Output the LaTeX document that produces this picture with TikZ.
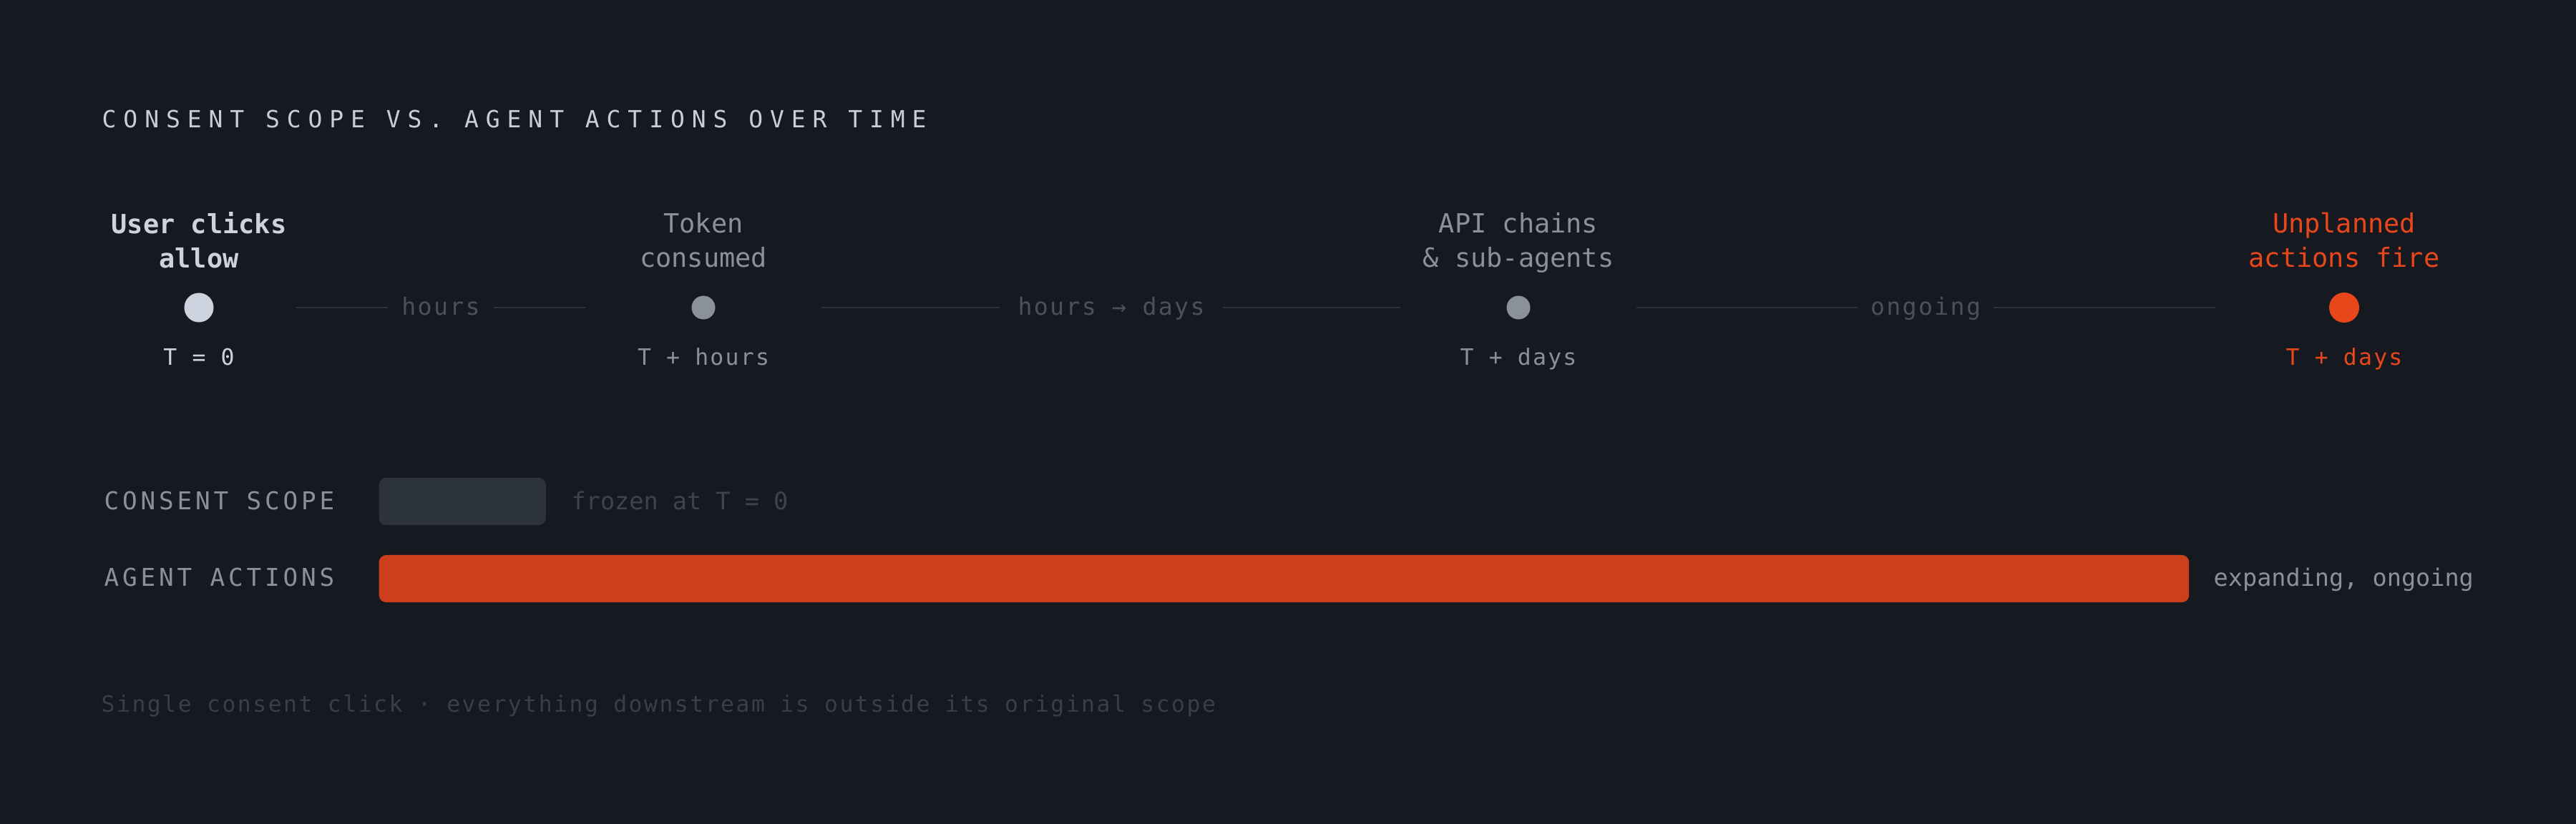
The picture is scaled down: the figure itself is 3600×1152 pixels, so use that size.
\documentclass[tikz,border=0pt]{standalone}
\usepackage{fontspec}
\setmonofont{DejaVu Sans Mono}
\newfontfamily\plainfont{DejaVu Sans Mono}
\newfontfamily\titlefont[LetterSpace=30]{DejaVu Sans Mono}
\newfontfamily\rowfont[LetterSpace=14]{DejaVu Sans Mono}
\newfontfamily\smallfont[LetterSpace=7]{DejaVu Sans Mono}
\newfontfamily\footfont[LetterSpace=8]{DejaVu Sans Mono}
\definecolor{bg}{HTML}{161920}
\definecolor{ctitle}{HTML}{C8CED8}
\definecolor{clight}{HTML}{CDD3DE}
\definecolor{cgray}{HTML}{8B9199}
\definecolor{cdim}{HTML}{4B515A}
\definecolor{cline}{HTML}{2E333B}
\definecolor{cfrozen}{HTML}{3E444C}
\definecolor{cfoot}{HTML}{3A3F47}
\definecolor{cbox}{HTML}{2D333B}
\definecolor{corange}{HTML}{E8471C}
\definecolor{cbar}{HTML}{CC3F1C}
\tikzset{
  titletext/.style={anchor=base west, inner sep=0pt, text=ctitle, font=\titlefont\fontsize{9.39}{11}\selectfont},
  eventlbl/.style={anchor=base, inner sep=0pt, align=center, text=cgray, font=\plainfont\fontsize{10.5}{13.66}\selectfont},
  timelbl/.style={anchor=base, inner sep=0pt, text=cgray, font=\smallfont\fontsize{8.96}{11}\selectfont},
  gaplbl/.style={anchor=base, inner sep=0pt, text=cdim, font=\smallfont\fontsize{9.45}{11}\selectfont},
  rowlbl/.style={anchor=base west, inner sep=0pt, text=cgray, font=\rowfont\fontsize{9.76}{11}\selectfont},
  notelbl/.style={anchor=base west, inner sep=0pt, font=\plainfont\fontsize{9.53}{11}\selectfont},
  dot/.style={circle, inner sep=0pt, draw=none},
  conn/.style={draw=cline, line width=0.025cm},
  barshape/.style={anchor=west, inner sep=0pt, draw=none, rounded corners=0.1cm, minimum height=0.66cm}
}
\begin{document}
\begin{tikzpicture}[x=0.01cm, y=-0.01cm]
\fill[bg] (0,0) rectangle (3600,1152);
\useasboundingbox (0,0) rectangle (3600,1152);

% title
\node[titletext] (title) at (142,179) {CONSENT SCOPE VS. AGENT ACTIONS OVER TIME};

% event labels (anchor base = baseline of the last line)
\node[eventlbl, text=clight, font=\plainfont\bfseries\fontsize{10.5}{13.66}\selectfont] (l1) at (278,375) {User clicks\\allow};
\node[eventlbl] (l2) at (983,374) {Token\\consumed};
\node[eventlbl] (l3) at (2122,374) {API chains\\\& sub-agents};
\node[eventlbl, text=corange] (l4) at (3276,374) {Unplanned\\actions fire};

% dots
\node[dot, fill=clight, minimum size=0.41cm] (d1) at (278,430) {};
\node[dot, fill=cgray, minimum size=0.33cm] (d2) at (983,430) {};
\node[dot, fill=cgray, minimum size=0.33cm] (d3) at (2122,430) {};
\node[dot, fill=corange, minimum size=0.42cm] (d4) at (3276,430) {};

% time labels
\node[timelbl, text=clight] (t1) at (278,510) {T = 0};
\node[timelbl] (t2) at (983,510) {T + hours};
\node[timelbl] (t3) at (2122,510) {T + days};
\node[timelbl, text=corange] (t4) at (3276,510) {T + days};

% gap labels
\node[gaplbl, minimum width=1.46cm] (c1) at (616,440) {hours};
\node[gaplbl, minimum width=3.10cm] (c2) at (1553,440) {hours → days};
\node[gaplbl, minimum width=1.88cm] (c3) at (2691,440) {ongoing};

% connector line ends
\coordinate (s1a) at (414,430);
\coordinate (s1b) at (818,430);
\coordinate (s2a) at (1148,430);
\coordinate (s2b) at (1957,430);
\coordinate (s3a) at (2287,430);
\coordinate (s3b) at (3096,430);

\draw[conn] (s1a) -- (s1a -| c1.west);
\draw[conn] (c1.east |- s1b) -- (s1b);
\draw[conn] (s2a) -- (s2a -| c2.west);
\draw[conn] (c2.east |- s2b) -- (s2b);
\draw[conn] (s3a) -- (s3a -| c3.west);
\draw[conn] (c3.east |- s3b) -- (s3b);

% rows
\node[rowlbl] (r1) at (145,712) {CONSENT SCOPE};
\node[rowlbl] (r2) at (145,819) {AGENT ACTIONS};
\node[barshape, fill=cbox, minimum width=2.33cm] (scope) at (529,701) {};
\node[barshape, fill=cbar, minimum width=25.28cm] (actions) at (529,809) {};
\node[notelbl, text=cfrozen] (n1) at (798,712) {frozen at T = 0};
\node[notelbl, text=cgray] (n2) at (3093,819) {expanding, ongoing};

% footer
\node[anchor=base west, inner sep=0pt, text=cfoot, font=\footfont\fontsize{8.93}{11}\selectfont] (foot) at (141,995) {Single consent click · everything downstream is outside its original scope};
\end{tikzpicture}
\end{document}
